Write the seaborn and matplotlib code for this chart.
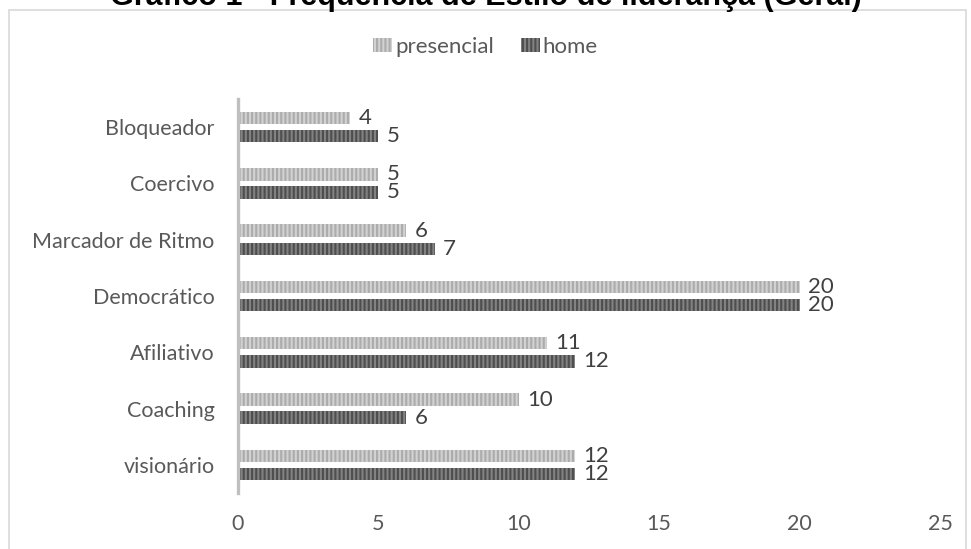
import matplotlib
matplotlib.use("Agg")
import matplotlib.pyplot as plt
import matplotlib.patches as mpatches
import seaborn as sns
import pandas as pd

categories = ["Bloqueador", "Coercivo", "Marcador de Ritmo", "Democrático",
              "Afiliativo", "Coaching", "visionário"]
presencial = [4, 5, 6, 20, 11, 10, 12]
home = [5, 5, 7, 20, 12, 6, 12]
series_names = ["presencial", "home"]
x_ticks = [0, 5, 10, 15, 20, 25]
title = "Gráfico 1 - Frequência de Estilo de liderança (Geral)"

df = pd.DataFrame({
    "categoria": categories * 2,
    "valor": presencial + home,
    "tipo": [series_names[0]] * len(categories) + [series_names[1]] * len(categories),
})

sns.set_theme(style="white")
plt.rcParams["font.family"] = ["Lato", "DejaVu Sans"]
plt.rcParams["hatch.linewidth"] = 1.5

W, H = 971, 549
fig = plt.figure(figsize=(W / 100, H / 100), dpi=100)
ax = fig.add_axes([238 / W, 1 - 493 / H, 702 / W, (493 - 99) / H])

face = {"presencial": "#d2d2d2", "home": "#828282"}
stripe = {"presencial": "#acacac", "home": "#4e4e4e"}

sns.barplot(data=df, x="valor", y="categoria", hue="tipo", order=categories,
            hue_order=series_names, palette=face, orient="h", width=0.64,
            gap=0.31, legend=False, ax=ax, errorbar=None)

for name, cont in zip(series_names, ax.containers):
    for bar in cont:
        bar.set_hatch("||||")
        bar.set_edgecolor(stripe[name])
        bar.set_linewidth(0)
    ax.bar_label(cont, fmt="%d", padding=6, fontsize=16, color="#404040")

ax.set_xlim(0, 25)
ax.set_ylim(6.5, -0.5)
ax.set_xticks(x_ticks)
ax.set_xlabel("")
ax.set_ylabel("")
for s in ["top", "right", "bottom"]:
    ax.spines[s].set_visible(False)
ax.spines["left"].set_color("#bfbfbf")
ax.spines["left"].set_linewidth(2.4)
ax.tick_params(axis="both", length=0, labelsize=15.5, labelcolor="#595959")
ax.tick_params(axis="x", pad=15)
ax.tick_params(axis="y", pad=17)

handles = [mpatches.Patch(facecolor=face[n], edgecolor=stripe[n], hatch="||||",
                          linewidth=0, label=n) for n in series_names]
leg = fig.legend(handles=handles, loc="center", bbox_to_anchor=(0.5, 1 - 47 / H),
                 ncol=2, frameon=False, fontsize=16, handlelength=0.85,
                 handleheight=0.55, handletextpad=0.15, columnspacing=1.2,
                 labelcolor="#595959")

fig.text(486 / W, 1 - 5 / H, title, ha="center", va="baseline",
         fontfamily=["Liberation Sans", "DejaVu Sans"], fontweight="bold",
         fontsize=22, color="#000000")

fig.patches.append(mpatches.Rectangle((9 / W, -0.05), (966 - 9) / W, (H - 10) / H + 0.05,
                                      transform=fig.transFigure, fill=False,
                                      edgecolor="#d9d9d9", linewidth=1.2))

fig.savefig("out.png", dpi=100)
